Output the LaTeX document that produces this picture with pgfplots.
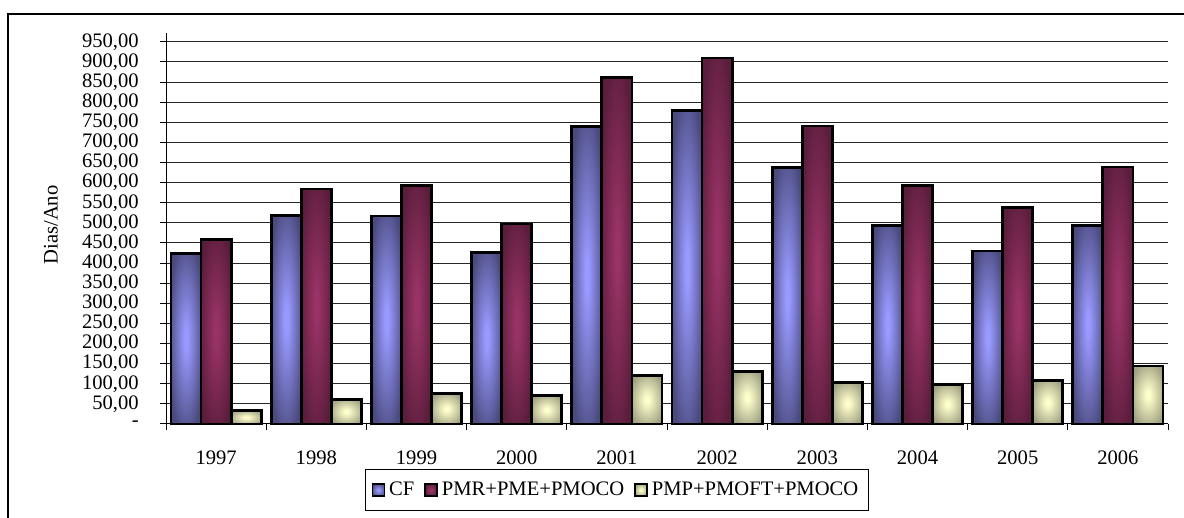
\documentclass[border=0pt]{standalone}
\usepackage{pgfplots}
\pgfplotsset{compat=1.18}
\usepackage{fontspec}
\setmainfont{Liberation Serif}
\definecolor{cfL}{HTML}{9999FF}
\definecolor{cfD}{HTML}{4A4A7E}
\definecolor{pmrL}{HTML}{993366}
\definecolor{pmrD}{HTML}{5A1D3B}
\definecolor{pmpL}{HTML}{FFFFCC}
\definecolor{pmpD}{HTML}{A0A082}
\pgfdeclareradialshading{cfshade}{\pgfpoint{0bp}{0bp}}{color(0bp)=(cfL); color(3bp)=(cfL); color(30bp)=(cfD); color(50bp)=(cfD)}
\pgfdeclareradialshading{pmrshade}{\pgfpoint{0bp}{0bp}}{color(0bp)=(pmrL); color(3bp)=(pmrL); color(30bp)=(pmrD); color(50bp)=(pmrD)}
\pgfdeclareradialshading{pmpshade}{\pgfpoint{0bp}{0bp}}{color(0bp)=(pmpL); color(3bp)=(pmpL); color(30bp)=(pmpD); color(50bp)=(pmpD)}
\newcommand{\chartfont}{\fontsize{10.3}{12}\selectfont}
\pgfplotsset{
  sqlegend/.style={legend image code/.code={\draw[##1, line width=0.8pt] (0pt,-3pt) rectangle (6pt,3pt);}},
  cfbar/.style={ybar, bar width=0.3, bar shift=-0.3, draw=black, line width=1.4pt, shade, shading=cfshade, sqlegend},
  pmrbar/.style={ybar, bar width=0.3, bar shift=0, draw=black, line width=1.4pt, shade, shading=pmrshade, sqlegend},
  pmpbar/.style={ybar, bar width=0.3, bar shift=0.3, draw=black, line width=1.4pt, shade, shading=pmpshade, sqlegend},
}
\begin{document}
\chartfont
\begin{tikzpicture}
\useasboundingbox (0,0) rectangle (592pt,259pt);
\draw[line width=0.75pt] (4pt,-10pt) rectangle (600pt,252pt);
\begin{axis}[
  at={(83pt,47pt)}, anchor=south west,
  scale only axis, width=501pt, height=195.5pt,
  xmin=-0.5, xmax=9.5, ymin=0, ymax=972,
  axis lines*=left,
  axis line style={black, line width=0.5pt},
  tick align=outside,
  major tick length=3pt,
  tick style={black, line width=0.5pt},
  xtick={-0.5,0.5,...,9.5},
  xticklabels={1997,1998,1999,2000,2001,2002,2003,2004,2005,2006,{}},
  xticklabel style={xshift=25.05pt, yshift=-7pt, font=\chartfont},
  ytick={0,50,...,950},
  yticklabels={{-},{50,00},{100,00},{150,00},{200,00},{250,00},{300,00},{350,00},{400,00},{450,00},{500,00},{550,00},{600,00},{650,00},{700,00},{750,00},{800,00},{850,00},{900,00},{950,00}},
  yticklabel style={xshift=-7pt, font=\chartfont},
  ymajorgrids,
  major grid style={black!85, line width=0.5pt},
  ylabel={Dias/Ano},
  ylabel style={at={(axis description cs:-0.1148,0.509)}, anchor=center, font=\chartfont},
  legend columns=3,
  legend style={at={(axis description cs:0.450,-0.169)}, anchor=center, draw=black, line width=0.5pt, font=\chartfont,
    inner ysep=4pt,
    /tikz/every even column/.append style={column sep=3pt}},
  clip=false,
]
% first bar of each series carries the legend entry
\addplot[cfbar] coordinates {(0,423)}; \addlegendentry{CF}
\addplot[pmrbar] coordinates {(0,458)}; \addlegendentry{PMR+PME+PMOCO}
\addplot[pmpbar] coordinates {(0,33)}; \addlegendentry{PMP+PMOFT+PMOCO}
% CF
\addplot[cfbar, forget plot] coordinates {(1,518)};
\addplot[cfbar, forget plot] coordinates {(2,517)};
\addplot[cfbar, forget plot] coordinates {(3,426)};
\addplot[cfbar, forget plot] coordinates {(4,740)};
\addplot[cfbar, forget plot] coordinates {(5,779)};
\addplot[cfbar, forget plot] coordinates {(6,637)};
\addplot[cfbar, forget plot] coordinates {(7,494)};
\addplot[cfbar, forget plot] coordinates {(8,430)};
\addplot[cfbar, forget plot] coordinates {(9,494)};
% PMR+PME+PMOCO
\addplot[pmrbar, forget plot] coordinates {(1,584)};
\addplot[pmrbar, forget plot] coordinates {(2,592)};
\addplot[pmrbar, forget plot] coordinates {(3,497)};
\addplot[pmrbar, forget plot] coordinates {(4,861)};
\addplot[pmrbar, forget plot] coordinates {(5,910)};
\addplot[pmrbar, forget plot] coordinates {(6,741)};
\addplot[pmrbar, forget plot] coordinates {(7,592)};
\addplot[pmrbar, forget plot] coordinates {(8,539)};
\addplot[pmrbar, forget plot] coordinates {(9,639)};
% PMP+PMOFT+PMOCO
\addplot[pmpbar, forget plot] coordinates {(1,61)};
\addplot[pmpbar, forget plot] coordinates {(2,75)};
\addplot[pmpbar, forget plot] coordinates {(3,70)};
\addplot[pmpbar, forget plot] coordinates {(4,121)};
\addplot[pmpbar, forget plot] coordinates {(5,131)};
\addplot[pmpbar, forget plot] coordinates {(6,103)};
\addplot[pmpbar, forget plot] coordinates {(7,98)};
\addplot[pmpbar, forget plot] coordinates {(8,108)};
\addplot[pmpbar, forget plot] coordinates {(9,144)};
\end{axis}
\end{tikzpicture}
\end{document}
